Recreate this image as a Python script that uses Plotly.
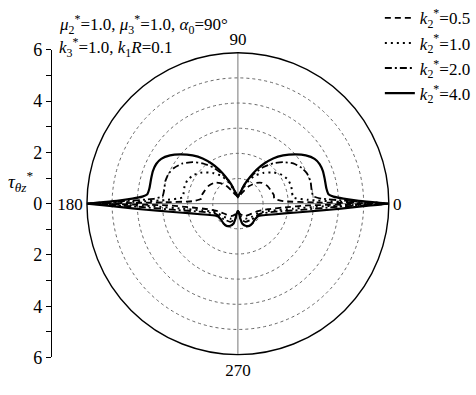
import plotly.graph_objects as go

# ---- data ----
# upper half: angle above the 0-axis (deg) and r, mirrored about 90 deg
# lower half: angle below the 0-axis (deg) and r, mirrored about 270 deg
k_labels = ["0.5", "1.0", "2.0", "4.0"]

up_t_05 = [0, 1.0, 3.2, 7.9, 13.8, 20.6, 30.7, 41.1, 49.5, 57.3, 64.3, 74.5, 90]
up_r_05 = [6, 3.0, 1.8, 1.46, 1.47, 1.42, 1.37, 1.26, 1.08, 0.83, 0.58, 0.37, 0.27]
lo_t_05 = [0, 1.4, 4.8, 10.4, 20.6, 40, 60.8, 76.6, 90]
lo_r_05 = [6, 2.8, 1.81, 1.22, 0.85, 0.65, 0.57, 0.43, 0.28]

up_t_10 = [0, 1.1, 3.1, 6.5, 11.8, 18.3, 25.4, 33.3, 41.1, 50.7, 59.4, 65.6, 71.6, 79.6, 90]
up_r_10 = [6, 4.0, 2.8, 2.21, 2.20, 2.23, 2.21, 2.09, 1.89, 1.58, 1.28, 0.97, 0.63, 0.39, 0.27]
lo_t_10 = [0, 1.6, 5.2, 10.9, 22.4, 43.4, 63.4, 78.7, 90]
lo_r_10 = [6, 3.5, 2.21, 1.43, 0.92, 0.76, 0.67, 0.51, 0.28]

up_t_20 = [0, 1.3, 3.5, 5.7, 10.6, 17.1, 23.6, 29.2, 36.0, 42.5, 48.8, 55.4, 61.6, 67.2, 73, 80, 90]
up_r_20 = [6, 4.5, 3.31, 3.01, 2.98, 3.02, 3.0, 2.91, 2.72, 2.44, 2.13, 1.76, 1.36, 1.03, 0.68, 0.41, 0.27]
lo_t_20 = [0, 1.7, 5.7, 12, 24, 48.4, 67.4, 80.5, 90]
lo_r_20 = [6, 4.0, 2.51, 1.53, 0.98, 0.83, 0.78, 0.61, 0.28]

up_t_40 = [0, 0.5, 1.45, 2.7, 4.2, 6.0, 9.7, 16.2, 21.0, 25.9, 30.3, 35.4, 40.4, 46.8, 52.1, 56.7, 61.1, 65.2, 70.7, 77.5, 90]
up_r_40 = [6, 5.5, 4.74, 4.2, 3.81, 3.62, 3.57, 3.59, 3.62, 3.61, 3.53, 3.31, 3.02, 2.63, 2.28, 1.91, 1.55, 1.19, 0.82, 0.46, 0.27]
lo_t_40 = [0, 1.15, 2.8, 5.0, 9.3, 15.6, 24.7, 32, 42.4, 53.4, 62.9, 71.2, 77.3, 80.5, 82.9, 90]
lo_r_40 = [6, 5.0, 4.1, 3.21, 2.23, 1.56, 1.10, 0.94, 0.92, 0.97, 0.99, 0.93, 0.82, 0.61, 0.40, 0.28]

series = [
    (k_labels[0], up_t_05, up_r_05, lo_t_05, lo_r_05, "6px,4px", 1.8),
    (k_labels[1], up_t_10, up_r_10, lo_t_10, lo_r_10, "2px,4px", 2.0),
    (k_labels[2], up_t_20, up_r_20, lo_t_20, lo_r_20, "7px,3px,2px,3px", 1.8),
    (k_labels[3], up_t_40, up_r_40, lo_t_40, lo_r_40, "solid", 2.2),
]

r_left_ticks = [-6, -4, -2, 0, 2, 4, 6]
r_left_text = ["6", "4", "2", "0", "2", "4", "6"]
r_left_minor = [-5, -3, -1, 1, 3, 5]

FONT = "Liberation Serif, Times New Roman, Times, serif"
W, H = 476, 395


def full_path(ut, ur, lt, lr):
    th, rr = [], []
    th += list(ut); rr += list(ur)
    th += [180 - t for t in reversed(ut)]; rr += list(reversed(ur))
    th += [180 + t for t in lt]; rr += list(lr)
    th += [360 - t for t in reversed(lt)]; rr += list(reversed(lr))
    return th, rr


fig = go.Figure()
for lab, ut, ur, lt, lr, dash, w in series:
    th, rr = full_path(ut, ur, lt, lr)
    fig.add_trace(go.Scatterpolar(
        theta=th, r=rr, mode="lines",
        line=dict(color="black", width=w, dash=dash, shape="spline", smoothing=0.5),
        name="<i>k</i><sub>2</sub><sup>*</sup>=" + lab,
    ))

# invisible trace to show the left linear scale
fig.add_trace(go.Scatter(x=[0], y=[0], mode="markers", marker=dict(opacity=0),
                         showlegend=False, hoverinfo="skip", xaxis="x", yaxis="y"))

cx, cy, R = 243, 204, 159
fig.update_layout(
    width=W, height=H,
    margin=dict(l=0, r=0, t=0, b=0),
    paper_bgcolor="white", plot_bgcolor="white",
    font=dict(family=FONT, size=17, color="black"),
    polar=dict(
        domain=dict(x=[(cx - R) / W, (cx + R) / W],
                    y=[(H - cy - R) / H, (H - cy + R) / H]),
        bgcolor="white",
        angularaxis=dict(
            rotation=0, direction="counterclockwise",
            tickvals=[0, 90, 180, 270], ticktext=["0", "90", "180", "270"],
            ticks="", showline=True, linecolor="black", linewidth=1.4,
            showgrid=True, gridcolor="#777", gridwidth=0.8,
            tickfont=dict(family=FONT, size=17, color="black"),
        ),
        radialaxis=dict(
            range=[0, 6], tickvals=[1, 2, 3, 4, 5], showticklabels=False,
            ticks="", showline=False, showgrid=True,
            gridcolor="#666", gridwidth=0.8, griddash="dot",
        ),
    ),
    xaxis=dict(domain=[53 / W, 60 / W], visible=False, range=[0, 1]),
    yaxis=dict(
        domain=[(H - 366) / H, (H - 42) / H], anchor="x",
        range=[-6, 6], tickvals=r_left_ticks, ticktext=r_left_text,
        ticks="outside", ticklen=5, tickwidth=1, tickcolor="black",
        minor=dict(tickvals=r_left_minor, ticks="outside", ticklen=5, tickcolor="black"),
        showline=True, linecolor="black", linewidth=1,
        showgrid=False, zeroline=False,
        tickfont=dict(family=FONT, size=18, color="black"),
    ),
    legend=dict(
        x=388 / W, y=1.026, xanchor="left", yanchor="top",
        bgcolor="rgba(0,0,0,0)", font=dict(family=FONT, size=17),
        tracegroupgap=0,
    ),
    showlegend=True,
    annotations=[
        dict(text="<i>μ</i><sub>2</sub><sup>*</sup>=1.0, <i>μ</i><sub>3</sub><sup>*</sup>=1.0, <i>α</i><sub>0</sub>=90°",
             x=58 / W, y=(H - 15) / H, xref="paper", yref="paper",
             xanchor="left", yanchor="middle", showarrow=False,
             font=dict(family=FONT, size=17)),
        dict(text="<i>k</i><sub>3</sub><sup>*</sup>=1.0, <i>k</i><sub>1</sub><i>R</i>=0.1",
             x=58 / W, y=(H - 40) / H, xref="paper", yref="paper",
             xanchor="left", yanchor="middle", showarrow=False,
             font=dict(family=FONT, size=17)),
        dict(text="<i>τ</i><sub><i>θz</i></sub><sup>*</sup>",
             x=6 / W, y=(H - 181) / H, xref="paper", yref="paper",
             xanchor="left", yanchor="middle", showarrow=False,
             font=dict(family=FONT, size=19)),
    ],
)

fig.write_html("out.html")
